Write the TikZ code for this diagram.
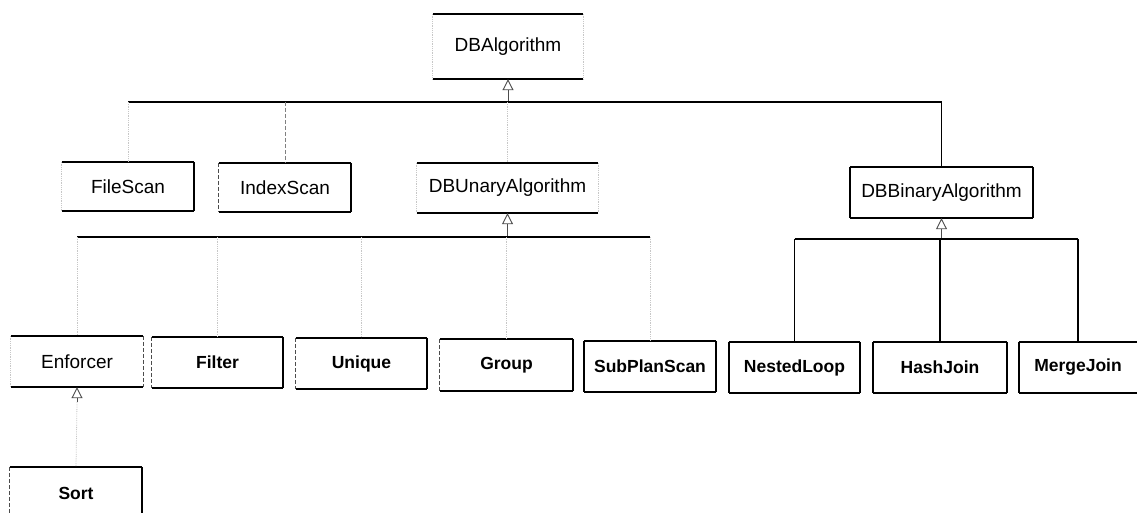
\documentclass[tikz,border=0pt]{standalone}
\usepackage{fontspec}
\setmainfont{Liberation Sans}
\usetikzlibrary{arrows.meta}

\tikzset{
  cls/.style={draw=none, inner sep=0pt, minimum height=50pt,
              font=\fontsize{19}{21}\selectfont},
  clsb/.style={cls, font=\fontsize{17.5}{20}\selectfont\bfseries},
  edge/.style={line width=1.5pt, black},
  faint/.style={line width=0.8pt, black!22, densely dotted},
  broken/.style={line width=1.1pt, black!70, dash pattern=on 4pt off 2pt},
  inherit/.style={line width=0.9pt, black!70,
                  -{Triangle[open, length=11pt, width=11pt]}},
}

% outline pieces of a class box
\newcommand{\topside}[2][edge]{\draw[#1] (#2.north west) -- (#2.north east);}
\newcommand{\botside}[2][edge]{\draw[#1] (#2.south west) -- (#2.south east);}
\newcommand{\lside}[2][edge]{\draw[#1] (#2.north west) -- (#2.south west);}
\newcommand{\rside}[2][edge]{\draw[#1] (#2.north east) -- (#2.south east);}

\begin{document}
\begin{tikzpicture}[x=1pt, y=-1pt]
\useasboundingbox[fill=white] (0,0) rectangle (1139,513);

% ---- classes
\node[cls, minimum width=150pt, minimum height=65pt] (alg) at (508,46.5) {DBAlgorithm};

\node[cls, minimum width=132pt, minimum height=49pt] (file)  at (128,186.5) {FileScan};
\node[cls, minimum width=132pt, minimum height=49pt] (index) at (285,187.5) {IndexScan};
\node[cls, minimum width=181pt] (unary)  at (507.5,188) {DBUnaryAlgorithm};
\node[cls, minimum width=183pt, minimum height=51pt] (binary) at (941.5,192.5) {DBBinaryAlgorithm};

\node[cls,  minimum width=132pt, minimum height=51pt] (enf)     at (77,361.5)   {Enforcer};
\node[clsb, minimum width=131pt, minimum height=51pt] (filter)  at (217.5,362.5) {Filter};
\node[clsb, minimum width=131pt, minimum height=51pt] (unique)  at (361.5,363.5) {Unique};
\node[clsb, minimum width=133pt, minimum height=52pt] (group)   at (506.5,365)   {Group};
\node[clsb, minimum width=132pt, minimum height=51pt] (subplan) at (650,366.5)   {SubPlanScan};
\node[clsb, minimum width=131pt, minimum height=51pt] (nested)  at (794.5,367.5) {NestedLoop};
\node[clsb, minimum width=134pt, minimum height=51pt] (hash)    at (940,367.5)   {HashJoin};
\node[clsb, minimum width=118pt, minimum height=51pt] (merge)   at (1078,367.5)  {MergeJoin};

\node[clsb, minimum width=132pt, minimum height=52pt] (sort) at (76,493) {Sort};

% ---- box outlines
\topside{alg} \botside{alg} \lside[faint]{alg} \rside[faint]{alg}
\topside{file} \botside{file} \rside{file} \lside[faint]{file}
\topside{index} \botside{index} \rside{index} \lside[broken]{index}
\topside{unary} \botside{unary} \lside[faint]{unary} \rside[faint]{unary}
\topside{binary} \botside{binary} \lside{binary} \rside{binary}
\topside{enf} \botside{enf} \rside[broken]{enf} \lside[faint]{enf}
\topside{filter} \botside{filter} \rside{filter} \lside[broken]{filter}
\topside{unique} \botside{unique} \rside{unique} \lside[broken]{unique}
\topside{group} \botside{group} \rside{group} \lside[broken]{group}
\foreach \n in {subplan,nested,hash}{\topside{\n} \botside{\n} \lside{\n} \rside{\n}}
\topside{merge} \botside{merge} \lside{merge}
\topside{sort} \rside{sort} \lside[broken]{sort}

% ---- generalisation from DBAlgorithm
\coordinate (algjoin) at (alg.south |- 0,102);
\coordinate (algL) at (file.north |- algjoin);
\coordinate (algR) at (binary.north |- algjoin);
\draw[inherit] (algjoin) -- (alg.south);
\draw[edge] (algL) -- (algR);
\draw[faint] (algL) -- (file.north);
\draw[broken, black!50, line width=0.8pt] (index.north |- algjoin) -- (index.north);
\draw[faint] (unary.north |- algjoin) -- (unary.north);
\draw[edge, line width=1.2pt] (algR) -- (binary.north);

% ---- generalisation from DBUnaryAlgorithm
\coordinate (unjoin) at (unary.south |- 0,237);
\coordinate (unL) at (enf.north |- unjoin);
\coordinate (unR) at (subplan.north |- unjoin);
\draw[inherit] (unjoin) -- (unary.south);
\draw[edge] (unL) -- (unR);
\foreach \n in {enf,filter,unique,group,subplan}
  \draw[faint] (\n.north |- unjoin) -- (\n.north);

% ---- generalisation from DBBinaryAlgorithm
\coordinate (bijoin) at (binary.south |- 0,239);
\coordinate (biL) at (nested.north |- bijoin);
\coordinate (biR) at (merge.north |- bijoin);
\draw[inherit] (bijoin) -- (binary.south);
\draw[edge, line width=1.2pt] (biL) -- (biR);
\foreach \n in {nested,hash,merge}
  \draw[edge, line width=1.2pt] (\n.north |- bijoin) -- (\n.north);

% ---- Sort specialises Enforcer
\coordinate (enfjoin) at (enf.south |- 0,402);
\draw[inherit] (enfjoin) -- (enf.south);
\draw[faint] (enfjoin) -- (sort.north);
\end{tikzpicture}
\end{document}
